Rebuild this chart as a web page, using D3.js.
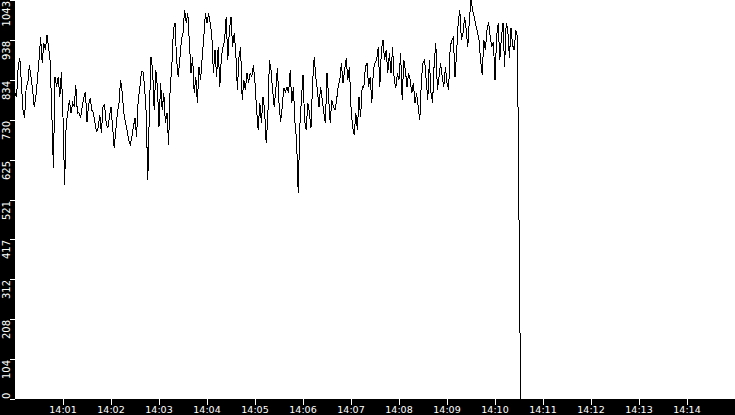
<!DOCTYPE html>
<html>
<head>
<meta charset="utf-8">
<script src="https://d3js.org/d3.v7.min.js"></script>
<style>
  body { margin: 0; background: #fff; overflow: hidden; }
  svg { display: block; }
  .lbl { font-family: "DejaVu Sans", Verdana, sans-serif; font-size: 9.5px; fill: #fff; }
  .ylbl { font-size: 10px; }
</style>
</head>
<body>
<svg id="chart"></svg>
<script>
// one sample every 2 seconds, starting 14:00:00
var startTime = new Date(2020, 0, 1, 14, 0, 0)
var stepSeconds = 2
var spanMinutes = 15

var load = [
  800, 789, 868, 891, 826, 755, 735, 816, 826, 873, 842, 808, 764, 789, 834, 886, 946, 878, 931, 912,
  952, 920, 881, 747, 604, 842, 816, 842, 789, 855, 737, 559, 721, 747, 782, 747, 774, 764, 821, 747,
  748, 735, 763, 787, 803, 724, 769, 787, 755, 748, 721, 698, 711, 742, 695, 763, 769, 721, 708, 737,
  763, 711, 656, 703, 748, 774, 834, 800, 748, 724, 703, 677, 664, 685, 711, 735, 685, 782, 813, 855,
  855, 816, 748, 572, 755, 894, 860, 755, 860, 816, 711, 826, 755, 800, 721, 748, 664, 816, 868, 965,
  983, 886, 842, 886, 938, 957, 1017, 983, 1009, 931, 852, 894, 800, 842, 774, 868, 834, 894, 946, 1009,
  983, 1009, 983, 952, 852, 912, 842, 920, 816, 894, 920, 938, 999, 886, 965, 999, 920, 957, 904, 808,
  894, 920, 782, 834, 808, 852, 826, 852, 842, 873, 826, 755, 703, 774, 721, 789, 755, 669, 737, 886,
  860, 808, 763, 808, 865, 774, 724, 763, 813, 803, 816, 800, 860, 774, 816, 721, 677, 538, 711, 782,
  847, 729, 703, 774, 748, 708, 826, 894, 842, 808, 763, 816, 782, 748, 721, 852, 789, 721, 782, 763,
  755, 782, 816, 834, 878, 826, 860, 891, 834, 868, 763, 711, 690, 748, 703, 789, 737, 816, 813, 868,
  878, 816, 842, 774, 860, 878, 886, 920, 816, 912, 938, 886, 912, 852, 904, 852, 920, 834, 813, 852,
  834, 904, 782, 886, 860, 816, 852, 834, 800, 826, 774, 800, 763, 729, 834, 878, 886, 834, 782, 886,
  800, 774, 878, 931, 808, 842, 878, 842, 816, 868, 826, 808, 920, 938, 946, 842, 904, 983, 1017, 938,
  957, 999, 965, 920, 991, 1043, 1017, 999, 978, 959, 938, 886, 847, 938, 912, 965, 986, 946, 920, 933,
  834, 946, 983, 886, 944, 983, 868, 983, 965, 891, 970, 925, 912, 965, 946, 468, 0
]

var yMax = 1043
var yTickLabels = ["0", "104", "208", "312", "417", "521", "625", "730", "834", "938", "1043"]

var W = 735, H = 415
var left = 15, plotBottom = 399

var svg = d3.select("#chart").attr("width", W).attr("height", H)

var x = d3.scaleTime()
  .domain([startTime, d3.timeMinute.offset(startTime, spanMinutes)])
  .range([left, W])
var y = d3.scaleLinear().domain([0, yMax]).range([plotBottom, 0])

// plot clip
svg.append("clipPath").attr("id", "plot")
  .append("rect").attr("x", left).attr("y", 0).attr("width", W - left).attr("height", plotBottom)

var line = d3.line()
  .x(function(d, i) { return x(d3.timeSecond.offset(startTime, i * stepSeconds)) })
  .y(function(d) { return y(d) })

svg.append("path")
  .datum(load)
  .attr("clip-path", "url(#plot)")
  .attr("d", line)
  .attr("fill", "none")
  .attr("stroke", "#000")
  .attr("stroke-width", 1)
  .style("shape-rendering", "crispEdges")

// black frame strips
svg.append("rect").attr("x", 0).attr("y", 0).attr("width", left).attr("height", H).attr("fill", "#000")
svg.append("rect").attr("x", 0).attr("y", plotBottom).attr("width", W).attr("height", H - plotBottom).attr("fill", "#000")

// y axis
var yStep = yMax / (yTickLabels.length - 1)
yTickLabels.forEach(function(lab, i) {
  var ty = Math.round(y(i * yStep))
  svg.append("line")
    .attr("x1", 10).attr("x2", left)
    .attr("y1", ty + 0.5).attr("y2", ty + 0.5)
    .attr("stroke", "#fff")
  var t = svg.append("text").attr("class", "lbl ylbl").text(lab)
  var len = t.node().getComputedTextLength()
  // label runs downward from its tick, kept inside the plot height
  var bottom = Math.min(ty + len + 1, plotBottom)
  t.attr("transform", "translate(10," + bottom + ") rotate(-90)")
})

// x axis
var fmt = d3.timeFormat("%H:%M")
var xTicks = d3.timeMinute.range(d3.timeMinute.offset(startTime, 1), d3.timeMinute.offset(startTime, spanMinutes))
xTicks.forEach(function(d) {
  var tx = Math.round(x(d))
  svg.append("line")
    .attr("x1", tx + 0.5).attr("x2", tx + 0.5)
    .attr("y1", plotBottom).attr("y2", plotBottom + 6)
    .attr("stroke", "#fff")
  svg.append("text").attr("class", "lbl")
    .attr("x", tx).attr("y", 413)
    .attr("text-anchor", "middle")
    .text(fmt(d))
})
</script>
</body>
</html>
